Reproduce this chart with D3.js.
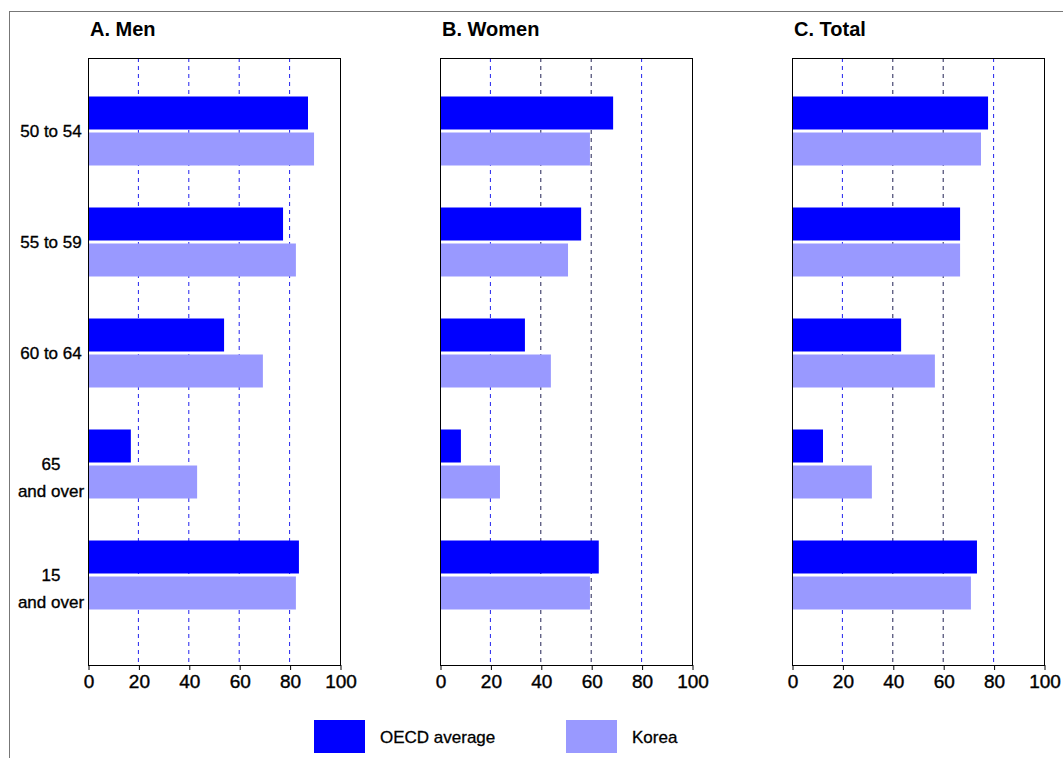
<!DOCTYPE html>
<html><head><meta charset="utf-8">
<script src="https://cdn.jsdelivr.net/npm/d3@7"></script>
<style>body{margin:0;background:#fff}text{font-family:"Liberation Sans",Arial,sans-serif}</style>
</head><body><div id="chart"></div>
<script>
var ageGroups = ["50 to 54", "55 to 59", "60 to 64", "65\nand over", "15\nand over"];
var panels = ["A. Men", "B. Women", "C. Total"];
var series = ["OECD average", "Korea"];
var menOECD = [87.3, 77.4, 54, 17, 83.7];
var menKorea = [89.7, 82.5, 69.4, 43.3, 82.5];
var womenOECD = [68.7, 56, 33.7, 8.3, 63];
var womenKorea = [59.5, 50.8, 44, 23.8, 59.5];
var totalOECD = [77.8, 66.7, 43.3, 12.3, 73.4];
var totalKorea = [75, 66.7, 56.7, 31.7, 71];
var xTicks = [0, 20, 40, 60, 80, 100];

var panelData = [[menOECD, menKorea], [womenOECD, womenKorea], [totalOECD, totalKorea]];
var gridDark = [[], [40, 60], [40, 60]];
var color = {"OECD average": "#0000ff", "Korea": "#9999ff"};
var lefts = [88, 440, 792], pw = 252, plotTop = 58, plotBottom = 665;

var svg = d3.select("#chart").append("svg").attr("width", 1063).attr("height", 758);
svg.append("rect").attr("x", 9.5).attr("y", 11.5).attr("width", 1100).attr("height", 800)
  .attr("fill", "none").attr("stroke", "#777");

var y = d3.scaleBand().domain(ageGroups).range([75, 630]);

panels.forEach(function(p, i) {
  var g = svg.append("g").attr("transform", "translate(" + lefts[i] + ",0)");
  var x = d3.scaleLinear().domain([0, 100]).range([0, pw]);
  g.append("text").attr("x", 2).attr("y", 36).attr("font-size", 20).attr("font-weight", "bold").text(p);
  g.selectAll(".grid").data(xTicks.slice(1, 5)).enter().append("line")
    .attr("x1", d => x(d)).attr("x2", d => x(d)).attr("y1", plotTop).attr("y2", plotBottom)
    .attr("stroke", d => gridDark[i].indexOf(d) >= 0 ? "#222255" : "#2222ee")
    .attr("stroke-dasharray", "4,4");
  var c = ageGroups.map(function(a, k) { return {a: a, o: panelData[i][0][k], k: panelData[i][1][k]}; });
  g.selectAll(".o").data(c).enter().append("rect")
    .attr("x", 0).attr("y", d => y(d.a) + y.bandwidth() / 2 - 34)
    .attr("width", d => x(d.o)).attr("height", 33).attr("fill", color["OECD average"]);
  g.selectAll(".k").data(c).enter().append("rect")
    .attr("x", 0).attr("y", d => y(d.a) + y.bandwidth() / 2 + 2)
    .attr("width", d => x(d.k)).attr("height", 33).attr("fill", color["Korea"]);
  g.append("rect").attr("x", 0.5).attr("y", plotTop + 0.5).attr("width", pw).attr("height", plotBottom - plotTop)
    .attr("fill", "none").attr("stroke", "#000");
  var ax = g.append("g").attr("transform", "translate(0.5," + plotBottom + ")")
    .call(d3.axisBottom(x).tickValues(xTicks).tickSize(5).tickPadding(5));
  ax.select(".domain").remove();
  ax.selectAll("text").attr("font-size", 19).attr("fill", "#000")
    .attr("stroke", "#000").attr("stroke-width", 0.4)
    .style("font-family", "Liberation Sans, Arial, sans-serif");
});

ageGroups.forEach(function(a) {
  var lines = a.split("\n");
  var t = svg.append("text").attr("x", 51).attr("text-anchor", "middle").attr("font-size", 17)
    .attr("stroke", "#000").attr("stroke-width", 0.35);
  var cy = y(a) + y.bandwidth() / 2;
  lines.forEach(function(l, j) {
    t.append("tspan").attr("x", 51).attr("y", cy + 6 + j * 27).text(l);
  });
});

var lx = [314, 566];
series.forEach(function(s, i) {
  svg.append("rect").attr("x", lx[i]).attr("y", 720).attr("width", 51).attr("height", 33).attr("fill", color[s]);
  svg.append("text").attr("x", lx[i] + 66).attr("y", 743).attr("font-size", 17)
    .attr("stroke", "#000").attr("stroke-width", 0.3).text(s);
});
</script></body></html>
